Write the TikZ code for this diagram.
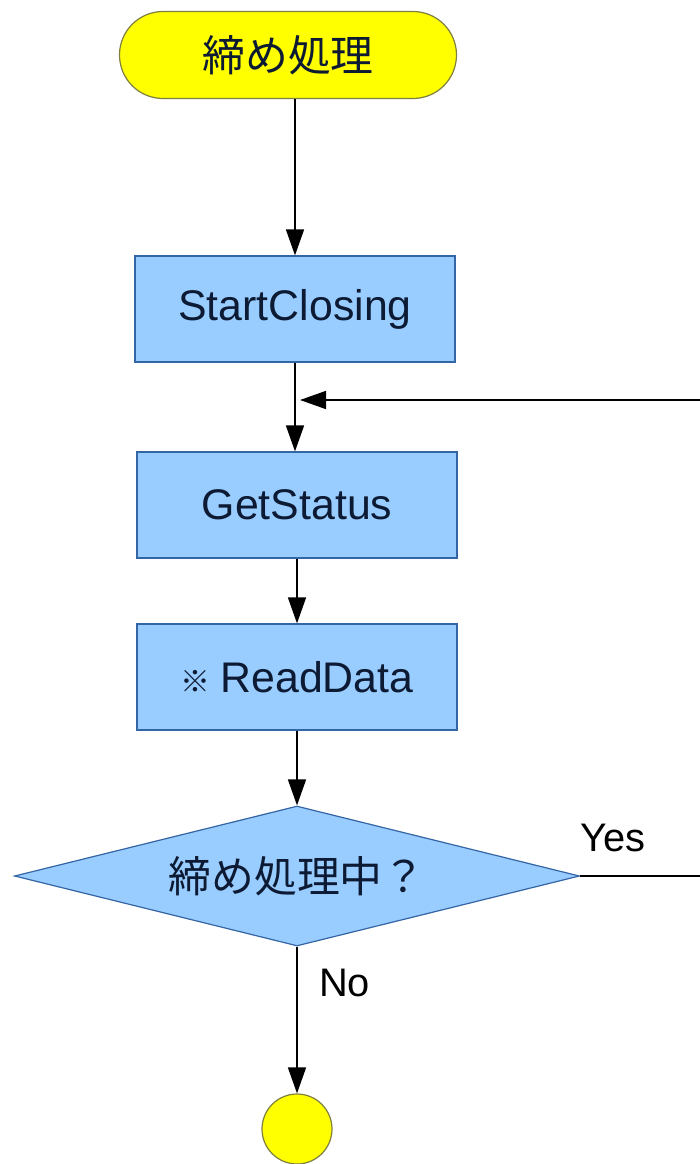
\documentclass[tikz,border=0pt]{standalone}
\usepackage{fontspec}
\setmainfont{Liberation Sans}
\newfontfamily\cjk{Noto Sans CJK JP}
\usetikzlibrary{arrows.meta,shapes.geometric}
\definecolor{boxfill}{HTML}{99CCFF}
\definecolor{boxline}{HTML}{3465A4}
\definecolor{termfill}{HTML}{FFFF00}
\definecolor{termline}{HTML}{7F7F3F}
\definecolor{inktext}{HTML}{0D1A33}
\begin{document}
\begin{tikzpicture}[x=1bp,y=-1bp,
  txt/.style={font=\fontsize{43}{50}\selectfont, text=inktext},
  termbox/.style={draw=termline, line width=1.2bp, fill=termfill, rounded corners=43.5bp,
    minimum width=337bp, minimum height=87bp, inner sep=0pt, txt},
  procbox/.style={draw=boxline, line width=1.2bp, fill=boxfill,
    minimum width=320bp, minimum height=106bp, inner sep=0pt, txt},
  decbox/.style={draw=boxline, line width=1.2bp, fill=boxfill, diamond, aspect=4.04,
    minimum width=565bp, minimum height=140bp, inner sep=0pt, txt},
  endbox/.style={draw=termline, line width=1.2bp, fill=termfill, circle,
    minimum size=70bp, inner sep=0pt},
  conn/.style={draw=black, line width=1.5bp, -{Triangle[length=26bp,width=18bp]}},
  lbl/.style={font=\fontsize{40}{46}\selectfont, text=black, inner sep=0pt}
]
\useasboundingbox (0,0) rectangle (700,1164);
\fill[white] (0,0) rectangle (700,1164);

\node[termbox] (start) at (288,55) {\cjk 締め処理};
\node[procbox] (sc) at (295,309) {StartClosing};
\node[procbox] (gs) at (297,505) {GetStatus};
\node[procbox] (rd) at (297,677) {{\cjk\bfseries\fontsize{30}{36}\selectfont ※}\hspace{10bp}ReadData};
\node[decbox] (dec) at (297,876) {\cjk 締め処理中？};
\node[endbox] (fin) at (297,1129) {};

\coordinate (j) at (300,400);
\coordinate (r1) at (706,876);
\coordinate (r2) at (706,400);

\draw[conn] (start.south -| sc.north) -- (sc.north);
\draw[conn] (sc.south) -- (sc.south |- gs.north);
\draw[conn] (gs.south) -- (rd.north);
\draw[conn] (rd.south) -- (dec.north);
\draw[conn] (dec.south) -- (fin.north);
\draw[conn] (dec.east) -- (r1) -- (r2) -- (j);

\node[lbl, anchor=west] (yes) at (580,838) {Yes};
\node[lbl, anchor=west] (no) at (319,983) {No};
\end{tikzpicture}
\end{document}
